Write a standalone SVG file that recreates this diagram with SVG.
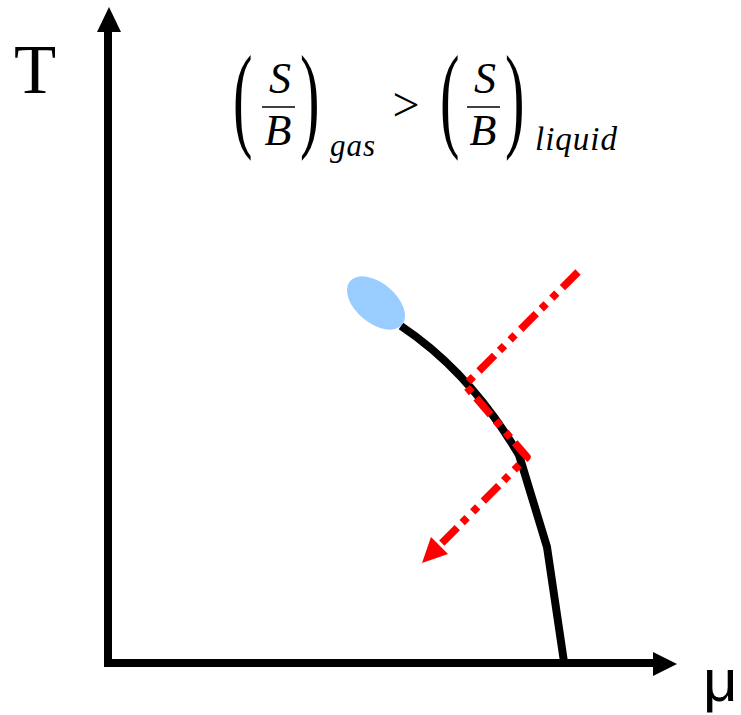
<svg xmlns="http://www.w3.org/2000/svg" width="741" height="715" viewBox="0 0 741 715">
  <style>
    .axis { stroke: #000; stroke-width: 8; fill: none; }
    .head { fill: #000; }
    .serif { font-family: "Liberation Serif", "DejaVu Serif", serif; fill: #000; }
    .it { font-style: italic; }
    .curve { stroke: #000; stroke-width: 8; fill: none; stroke-linejoin: round; }
    .redpath { stroke: #ff0000; stroke-width: 7.5; fill: none; stroke-dasharray: 22 8 7 8 7 7; stroke-linejoin: round; }
  </style>
  <rect width="741" height="715" fill="#fff"/>

  <g id="axes">
    <path class="axis" d="M108,666 L108,30"/>
    <polygon class="head" points="97,32 109,7 121,32"/>
    <path class="axis" d="M104,663 L655,663"/>
    <polygon class="head" points="653,652 677,664 653,676"/>
  </g>

  <g id="axis-labels">
    <text class="serif" x="14" y="93" font-size="69">T</text>
    <text x="703" y="701" font-size="60" font-family="Liberation Sans, Arial, sans-serif" fill="#000">μ</text>
  </g>

  <g id="formula">
    <text class="serif" transform="translate(233,136) scale(0.5,1)" font-size="117">(</text>
    <text class="serif it" x="280" y="93" font-size="44" text-anchor="middle">S</text>
    <line x1="262" y1="107" x2="295" y2="107" stroke="#000" stroke-width="1.6"/>
    <text class="serif it" x="278" y="145" font-size="44" text-anchor="middle">B</text>
    <text class="serif" transform="translate(300,136) scale(0.5,1)" font-size="117">)</text>
    <text class="serif it" x="330" y="156" font-size="31" textLength="45" lengthAdjust="spacing">gas</text>
    <text class="serif" x="406" y="121" font-size="48" text-anchor="middle">&gt;</text>
    <text class="serif" transform="translate(440,136) scale(0.5,1)" font-size="117">(</text>
    <text class="serif it" x="485" y="93" font-size="44" text-anchor="middle">S</text>
    <line x1="467" y1="107" x2="500" y2="107" stroke="#000" stroke-width="1.6"/>
    <text class="serif it" x="483" y="145" font-size="44" text-anchor="middle">B</text>
    <text class="serif" transform="translate(505,136) scale(0.5,1)" font-size="117">)</text>
    <text class="serif it" x="535" y="150" font-size="33" textLength="82" lengthAdjust="spacing">liquid</text>
  </g>

  <g id="phase-boundary">
    <path class="curve" d="M401,326 Q470,372 519,455 L547,547 L564,662"/>
  </g>

  <g id="critical-point">
    <ellipse cx="376" cy="303" rx="34" ry="20" transform="rotate(40 376 303)" fill="#99ccff"/>
  </g>

  <g id="connectors">
    <path class="redpath" d="M578,272 L465,385 L527,457 L439,546"/>
    <polygon points="422,563 431,537 448,554" fill="#ff0000"/>
  </g>
</svg>
